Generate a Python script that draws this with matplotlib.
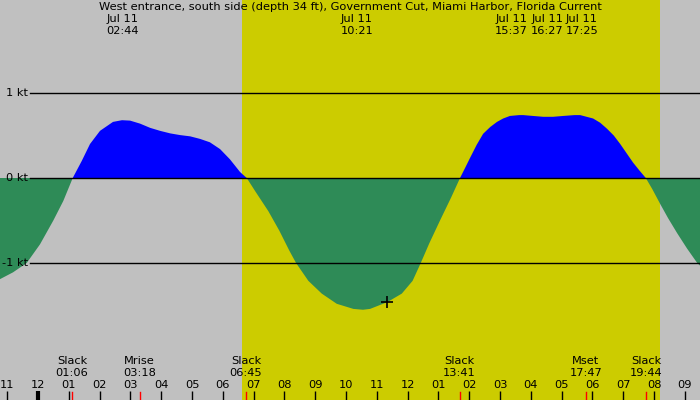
import matplotlib
matplotlib.use("Agg")
import matplotlib.pyplot as plt
import matplotlib.transforms as mtransforms

plt.rcParams['font.family'] = ['DejaVu Sans']

title = "West entrance, south side (depth 34 ft), Government Cut, Miami Harbor, Florida Current"

# current speed (kt) vs hours after midnight Jul 11
hours = [-1.234, -0.812, -0.367, 0.065, 0.497, 0.821, 1.127,
         1.419, 1.688, 2.013, 2.435, 2.727, 2.99, 3.31, 3.64, 3.96, 4.29, 4.61, 4.94,
         5.26, 5.58, 5.91, 6.23, 6.56, 6.776,
         7.05, 7.477, 7.834, 8.159, 8.377, 8.776, 9.211, 9.698, 10.237, 10.55, 10.78,
         11.34, 11.81, 12.16, 12.425, 12.70, 13.05, 13.41, 13.70,
         13.88, 14.03, 14.24, 14.45, 14.68, 14.90, 15.10, 15.32, 15.62, 15.75, 16.07,
         16.40, 16.72, 17.05, 17.42, 17.60, 18.02, 18.25, 18.47, 18.69, 18.90, 19.11,
         19.32, 19.52, 19.73, 19.94, 20.19, 20.45, 20.75, 21.07, 21.40, 21.49]
speed = [-1.19, -1.11, -1.00, -0.78, -0.50, -0.27, 0.00,
         0.20, 0.40, 0.555, 0.66, 0.68, 0.675, 0.64, 0.59, 0.555, 0.525, 0.505, 0.49,
         0.46, 0.42, 0.34, 0.22, 0.07, 0.00,
         -0.155, -0.39, -0.62, -0.855, -1.00, -1.21, -1.36, -1.48, -1.54, -1.55, -1.54,
         -1.46, -1.36, -1.21, -1.00, -0.77, -0.50, -0.23, 0.00,
         0.13, 0.24, 0.39, 0.52, 0.60, 0.66, 0.70, 0.73, 0.74, 0.74, 0.73,
         0.72, 0.72, 0.73, 0.74, 0.74, 0.70, 0.65, 0.58, 0.50, 0.40, 0.29,
         0.18, 0.09, 0.00, -0.13, -0.30, -0.47, -0.65, -0.83, -1.00, -1.03]

# daylight
sunrise = 6.62
sunset = 20.19

# extrema labels at top
ext_dates = ["Jul 11", "Jul 11", "Jul 11", "Jul 11", "Jul 11"]
ext_times = ["02:44", "10:21", "15:37", "16:27", "17:25"]
ext_label_hours = [2.733, 10.35, 15.36, 16.53, 17.66]

# events at bottom
event_names = ["Slack", "Mrise", "Slack", "Slack", "Mset", "Slack"]
event_times = ["01:06", "03:18", "06:45", "13:41", "17:47", "19:44"]
event_hours = [1.10, 3.30, 6.75, 13.683, 17.783, 19.733]

# hour ticks
tick_hours = list(range(-1, 22))
tick_labels = ["11", "12", "01", "02", "03", "04", "05", "06", "07", "08", "09", "10",
               "11", "12", "01", "02", "03", "04", "05", "06", "07", "08", "09"]

# reference lines
level_values = [1, 0, -1]
level_labels = ["1 kt", "0 kt", "-1 kt"]

marker_hour = 11.34
marker_speed = -1.46

GRAY = "#c0c0c0"
YELLOW = "#cccc00"
GREEN = "#2e8b57"
BLUE = "#0000ff"

fig = plt.figure(figsize=(7, 4), dpi=100)
fig.patch.set_facecolor(GRAY)
ax = fig.add_axes([0, 0, 1, 1])
ax.set_facecolor(GRAY)
ax.set_xlim(-1.234, 21.49)
ax.set_ylim(-222 / 85, 178 / 85)
ax.axis('off')

ax.axvspan(sunrise, sunset, color=YELLOW, zorder=0, lw=0)

ax.fill_between(hours, speed, 0, where=[s >= 0 for s in speed], interpolate=True,
                color=BLUE, lw=0, zorder=2)
ax.fill_between(hours, speed, 0, where=[s <= 0 for s in speed], interpolate=True,
                color=GREEN, lw=0, zorder=2)

ytrans = mtransforms.blended_transform_factory(ax.transAxes, ax.transData)
for v, lab in zip(level_values, level_labels):
    ax.axhline(v, xmin=30 / 700, xmax=1, color='black', lw=1, zorder=3)
    ax.text(28.5 / 700, v, lab, transform=ytrans,
            ha='right', va='center', fontsize=8.2, color='black', zorder=4)

ax.plot([marker_hour], [marker_speed], marker='+', color='black', markersize=9, mew=1.2, zorder=5)

trans = mtransforms.blended_transform_factory(ax.transData, ax.transAxes)

fs = 8.2
ax.text(0.5, 1 - 7.5 / 400, title, transform=ax.transAxes, ha='center', va='center', fontsize=fs)
for h, d, t in zip(ext_label_hours, ext_dates, ext_times):
    ax.text(h, 1 - 19.5 / 400, d, transform=trans, ha='center', va='center', fontsize=fs)
    ax.text(h, 1 - 31.5 / 400, t, transform=trans, ha='center', va='center', fontsize=fs)

for h, n, t in zip(event_hours, event_names, event_times):
    ax.text(h, 1 - 361.5 / 400, n, transform=trans, ha='center', va='center', fontsize=fs)
    ax.text(h, 1 - 373.5 / 400, t, transform=trans, ha='center', va='center', fontsize=fs)
    ax.plot([h, h], [0, 8.5 / 400], transform=trans, color='red', lw=1, zorder=4, clip_on=False)

for h, lab in zip(tick_hours, tick_labels):
    ax.text(h, 1 - 385 / 400, lab, transform=trans, ha='center', va='center', fontsize=fs)
    lw = 3 if h == 0 else 1
    ax.plot([h, h], [0, 9 / 400], transform=trans, color='black', lw=lw, zorder=4,
            solid_capstyle='butt')

fig.savefig("out.png", dpi=100, facecolor=GRAY)
